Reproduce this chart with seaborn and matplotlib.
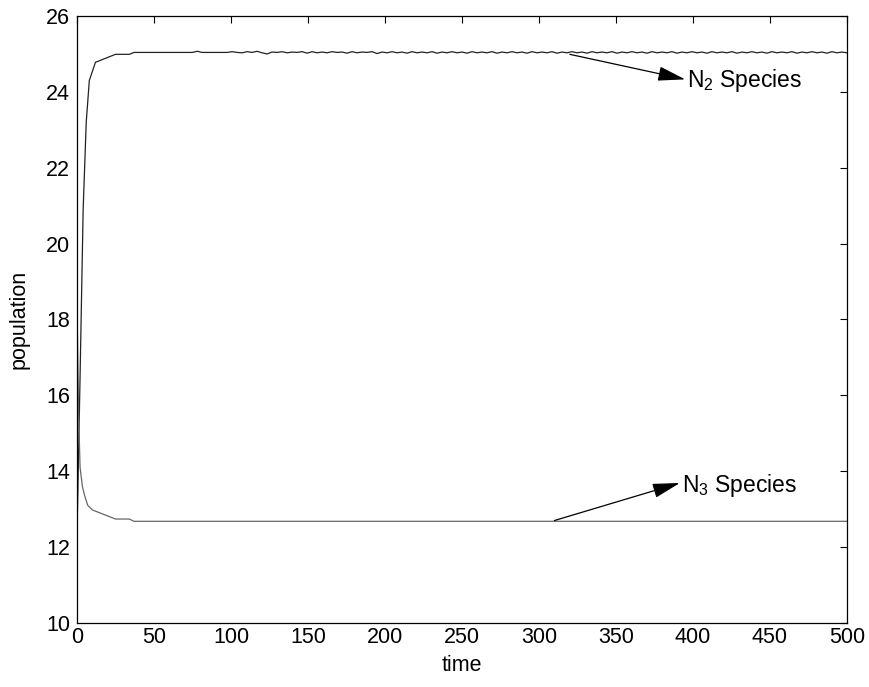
import numpy as np
import pandas as pd
import matplotlib
matplotlib.use("Agg")
from matplotlib import pyplot as plt
import seaborn as sns

# N2 species: fast rise then settles near 25 with a small ripple
n2_time_start = [0, 2, 4, 6, 8, 12, 25, 34, 37, 50, 60, 70, 75]
n2_value_start = [12.3, 16.5, 20.9, 23.2, 24.3, 24.78, 24.99, 24.99, 25.04, 25.04, 25.04, 25.04, 25.04]
n2_time_tail = np.linspace(78, 500, 131)
n2_value_tail = [
    25.07, 25.04, 25.04, 25.04, 25.04, 25.04, 25.04, 25.06, 25.04, 25.03,
    25.06, 25.04, 25.07, 25.03, 25.00, 25.05, 25.04, 25.06, 25.03, 25.05,
    25.04, 25.06, 25.02, 25.06, 25.03, 25.05, 25.03, 25.06, 25.04, 25.05,
    25.02, 25.06, 25.03, 25.05, 25.04, 25.06, 25.01, 25.05, 25.03, 25.06,
    25.03, 25.05, 25.02, 25.06, 25.03, 25.05, 25.03, 25.06, 25.02, 25.05,
    25.03, 25.06, 25.03, 25.05, 25.02, 25.06, 25.03, 25.05, 25.03, 25.06,
    25.02, 25.05, 25.03, 25.06, 25.03, 25.05, 25.02, 25.06, 25.03, 25.05,
    25.03, 25.06, 25.02, 25.05, 25.03, 25.06, 25.03, 25.05, 25.02, 25.06,
    25.03, 25.05, 25.03, 25.06, 25.02, 25.05, 25.03, 25.06, 25.03, 25.05,
    25.02, 25.06, 25.03, 25.05, 25.03, 25.06, 25.02, 25.05, 25.03, 25.06,
    25.03, 25.05, 25.02, 25.06, 25.03, 25.05, 25.03, 25.06, 25.02, 25.05,
    25.03, 25.06, 25.03, 25.05, 25.02, 25.06, 25.03, 25.05, 25.03, 25.06,
    25.02, 25.05, 25.03, 25.06, 25.03, 25.05, 25.02, 25.06, 25.03, 25.05,
    25.03,
]

# N3 species: fast drop then flat near 12.68
n3_time = [0, 1, 2, 3.5, 5, 7, 10, 25, 34, 37, 500]
n3_value = [18.5, 15.6, 14.1, 13.6, 13.35, 13.1, 12.98, 12.74, 12.74, 12.68, 12.68]

n2 = pd.DataFrame({
    "time": np.concatenate([n2_time_start, n2_time_tail]),
    "population": np.concatenate([n2_value_start, n2_value_tail]),
})
n3 = pd.DataFrame({"time": n3_time, "population": n3_value})

sns.set_style("white")
plt.rcParams["font.family"] = ["Liberation Sans", "DejaVu Sans"]
plt.rcParams["text.color"] = "black"
plt.rcParams["axes.labelcolor"] = "black"
plt.rcParams["mathtext.fontset"] = "custom"
plt.rcParams["mathtext.rm"] = "Liberation Sans"
fs = 15.5

fig = plt.figure(figsize=(8.69, 6.87), dpi=100)
ax = fig.add_axes([0.0886, 0.0932, 0.886, 0.8835])

sns.lineplot(data=n2, x="time", y="population", ax=ax, color="#222222", lw=0.9, sort=False)
sns.lineplot(data=n3, x="time", y="population", ax=ax, color="#666666", lw=0.9, sort=False)

ax.set_xlim(0, 500)
ax.set_ylim(10, 26)
ax.set_xticks(range(0, 501, 50))
ax.set_yticks(range(10, 27, 2))
ax.tick_params(direction="in", length=5, width=0.8, top=True, right=True,
               labelsize=fs, colors="black")
ax.tick_params(axis="x", pad=3)
ax.tick_params(axis="y", pad=5)
for s in ax.spines.values():
    s.set_color("black")
    s.set_linewidth(0.9)
ax.set_xlabel("time", fontsize=fs, labelpad=5)
ax.set_ylabel("population", fontsize=fs, labelpad=12)

arrow = dict(arrowstyle="-|>,head_length=1.7,head_width=0.45", color="black", lw=0.9,
             shrinkA=0, shrinkB=0)
ax.annotate("", xy=(395, 24.33), xytext=(320, 24.99), arrowprops=arrow)
ax.text(396, 24.3, "N$_2$ Species", fontsize=16.5, va="center", ha="left")
ax.annotate("", xy=(391.5, 13.69), xytext=(310, 12.70), arrowprops=arrow)
ax.text(393, 13.62, "N$_3$ Species", fontsize=16.5, va="center", ha="left")

fig.savefig("out.png", dpi=100)
